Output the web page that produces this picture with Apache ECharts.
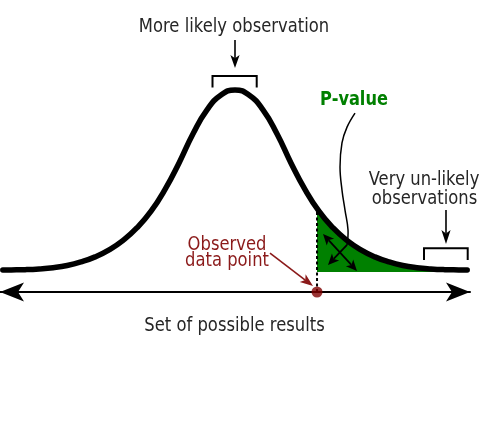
<!DOCTYPE html>
<html><head><meta charset="utf-8">
<script src="https://cdn.jsdelivr.net/npm/echarts@6/dist/echarts.min.js"></script>
<style>html,body{margin:0;padding:0;background:#fff}#c{width:500px;height:438px}</style>
</head><body><div id="c"></div>
<script>
// ---- data (x in standard-deviation units, height relative to the peak) ----
const xValues = [-4.15,-4,-3.75,-3.5,-3.25,-3,-2.75,-2.5,-2.25,-2,-1.75,-1.5,-1.25,-1,-0.75,-0.5,-0.25,0,
                 0.25,0.5,0.75,1,1.25,1.5,1.75,2,2.25,2.5,2.75,3,3.25,3.5,3.75,4,4.15];
const densityValues = [0,0.0005,0.002,0.006,0.013,0.025,0.045,0.073,0.112,0.165,0.235,0.327,0.448,0.595,0.757,0.89,0.972,1,
                       0.972,0.89,0.757,0.595,0.448,0.327,0.235,0.165,0.112,0.073,0.045,0.025,0.013,0.006,0.002,0.0005,0];
const observedX = 1.466;           // observed data point
const observedCurveHeight = 0.335; // curve height above the observed point
const axisLevel = -0.1222;         // level of the "set of possible results" axis
const xMin = -4.2, xMax = 4.2, yMax = 1.5;

const textMoreLikely = 'More likely observation';
const textPValue = 'P-value';
const textUnlikely = ['Very un-likely', 'observations'];
const textObserved = ['Observed', 'data point'];
const textAxis = 'Set of possible results';

const curveData = xValues.map((x, i) => [x, densityValues[i]]);
const tailData = [[observedX, observedCurveHeight]].concat(curveData.filter(p => p[0] > observedX));

const FONT = '"DejaVu Sans", Verdana, sans-serif';
const TXT = '#262626', RED = '#8b1a1a', GREEN = '#008000', BLACK = '#000';
const SY = 1.17;

function renderAnnotations(params, api) {
  if (!api || !api.coord) return null;
  const P = (p) => api.coord(p);
  const ch = [];
  function poly(pts, color, w, smooth) {
    ch.push({type: 'polyline', shape: {points: pts.map(P), smooth: smooth || 0},
             style: {stroke: color, lineWidth: w, fill: null, lineCap: 'butt'}});
  }
  function headAt(a, b, color, len, hw) {
    const dx = b[0]-a[0], dy = b[1]-a[1], L = Math.hypot(dx, dy), ux = dx/L, uy = dy/L;
    const bx = b[0]-ux*len, by = b[1]-uy*len, nx = -uy, ny = ux;
    const notch = [b[0]-ux*len*0.75, b[1]-uy*len*0.75];
    ch.push({type: 'polygon', shape: {points: [b, [bx+nx*hw, by+ny*hw], notch, [bx-nx*hw, by-ny*hw]]},
             style: {fill: color}});
    return notch;
  }
  function arrow(from, to, color, w, len, hw, both) {
    const a = P(from), b = P(to);
    const nb = headAt(a, b, color, len, hw);
    let na = a;
    if (both) na = headAt(b, a, color, len, hw);
    ch.push({type: 'line', shape: {x1: na[0], y1: na[1], x2: nb[0], y2: nb[1]},
             style: {stroke: color, lineWidth: w}});
  }
  function text(str, p, color, size, weight) {
    const q = P(p);
    ch.push({type: 'text', x: q[0], y: q[1] + 1, scaleX: 1, scaleY: SY,
             style: {text: str, x: 0, y: 0, align: 'center', verticalAlign: 'middle',
                     fontFamily: FONT, fontSize: size, fontWeight: weight || 'normal', fill: color}});
  }
  // brackets
  poly([[-0.402, 1.014], [-0.402, 1.078], [0.388, 1.078], [0.388, 1.014]], BLACK, 2);
  poly([[3.378, 0.0556], [3.378, 0.1206], [4.159, 0.1206], [4.159, 0.0556]], BLACK, 2);
  // arrows
  arrow([0, 1.278], [0, 1.122], BLACK, 1.6, 13, 4.6);
  arrow([3.771, 0.333], [3.771, 0.144], BLACK, 1.6, 14, 4.6);
  arrow([0.6255, 0.0944], [1.394, -0.0889], RED, 1.6, 13, 4.8);
  arrow([1.573, 0.2], [2.18, -0.0056], BLACK, 1.8, 11, 5, true);
  // P-value leader
  poly([[2.145, 0.872], [2.002, 0.794], [1.912, 0.706], [1.877, 0.572], [1.912, 0.444],
        [1.966, 0.333], [2.02, 0.222], [2.002, 0.139]], BLACK, 1.5, 0.4);
  arrow([2.002, 0.139], [1.662, 0.028], BLACK, 1.8, 11, 5);
  // texts
  text(textMoreLikely, [-0.018, 1.358], TXT, 16.4);
  text(textPValue, [2.127, 0.947], GREEN, 16.2, 'bold');
  text(textUnlikely[0], [3.378, 0.504], TXT, 16.4);
  text(textUnlikely[1], [3.387, 0.398], TXT, 16.4);
  text(textObserved[0], [-0.143, 0.146], RED, 16.4);
  text(textObserved[1], [-0.143, 0.0556], RED, 16.4);
  text(textAxis, [-0.009, -0.3056], TXT, 16.4);
  return {type: 'group', children: ch};
}

const chart = echarts.init(document.getElementById('c'), null, {renderer: 'canvas'});
chart.setOption({
  animation: false,
  backgroundColor: '#fff',
  grid: {left: 0, right: 30, top: 0, height: 292, containLabel: false},
  xAxis: {
    type: 'value', min: xMin, max: xMax,
    axisLine: {show: true, onZero: false, symbol: ['arrow', 'arrow'], symbolSize: [14.25, 24],
               lineStyle: {color: BLACK, width: 2}},
    axisTick: {show: false}, axisLabel: {show: false}, splitLine: {show: false}
  },
  yAxis: {type: 'value', min: axisLevel, max: yMax, show: false, splitLine: {show: false}},
  series: [
    {
      type: 'line', data: tailData, smooth: 0.5, symbol: 'none', clip: false, z: 1,
      lineStyle: {width: 0, color: GREEN},
      areaStyle: {color: GREEN, opacity: 1, origin: -0.011}
    },
    {
      type: 'line', data: curveData, smooth: 0.5, symbol: 'none', clip: false, z: 3,
      lineStyle: {color: BLACK, width: 5.5, cap: 'round', join: 'round'}
    },
    {
      type: 'line', data: [[observedX, axisLevel], [observedX, observedCurveHeight]], symbol: 'none', z: 2,
      lineStyle: {color: BLACK, width: 2, type: [3, 2.5]}
    },
    {
      type: 'scatter', data: [[observedX, axisLevel]], symbolSize: 11, z: 6,
      itemStyle: {color: '#800000'}
    },
    {
      type: 'custom', data: [[0, 0]], renderItem: renderAnnotations, z: 5, silent: true, clip: false
    }
  ]
});
</script>
</body></html>
